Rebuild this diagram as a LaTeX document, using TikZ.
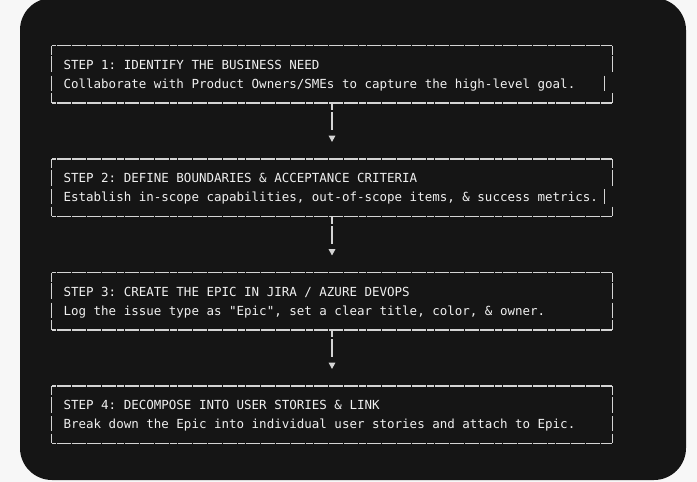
\documentclass[tikz,border=0pt]{standalone}
\usepackage{fontspec}
\setmonofont{DejaVu Sans Mono}
\usetikzlibrary{arrows.meta}

\definecolor{pagebg}{HTML}{F7F7F7}
\definecolor{panelbg}{HTML}{151515}
\definecolor{asciiline}{HTML}{D4D4D4}
\definecolor{asciitext}{HTML}{F0F0F0}

\tikzset{
  panel/.style={fill=panelbg, rounded corners=32pt},
  framebox/.style={minimum width=560pt, minimum height=57pt, inner sep=0pt},
  steptext/.style={anchor=base west, inner sep=0pt, align=left, text=asciitext,
    font=\ttfamily\fontsize{12.5}{19}\selectfont},
  vbar/.style={draw=asciiline, line width=1.2pt},
  hbar/.style={vbar, dash pattern=on 7pt off 0.56pt, dash phase=2.8pt},
  vside/.style={vbar, dash pattern=on 9pt off 1.7pt on 16pt off 3.5pt on 15pt off 2.5pt on 9.3pt off 10pt},
  vsidegap/.style={vbar, dash pattern=on 9pt off 1.7pt on 16pt off 21pt on 9.3pt off 10pt},
  link/.style={vbar, shorten >=17pt, dash pattern=on 7.5pt off 2pt on 17.7pt off 20pt,
    -{Triangle[width=6.5pt,length=6.3pt]}}
}

\begin{document}
\begin{tikzpicture}[x=1pt,y=1pt]
  \useasboundingbox (0,0) rectangle (697,-482);
  \fill[pagebg] (0,0) rectangle (697,-482);
  \fill[panel] (20,2) rectangle (686,-480);

  % frames
  \node[framebox] (box1) at (332,-74.2) {};
  \node[framebox] (box2) at (332,-187.7) {};
  \node[framebox] (box3) at (332,-301.2) {};
  \node[framebox] (box4) at (332,-414.7) {};

  % step texts (base = last line)
  \node[steptext] (step1) at ([shift={(11.6,-42.6)}]box1.north west)
    {STEP 1: IDENTIFY THE BUSINESS NEED\\Collaborate with Product Owners/SMEs to capture the high-level goal.};
  \node[steptext] (step2) at ([shift={(11.6,-42.6)}]box2.north west)
    {STEP 2: DEFINE BOUNDARIES \& ACCEPTANCE CRITERIA\\Establish in-scope capabilities, out-of-scope items, \& success metrics.};
  \node[steptext] (step3) at ([shift={(11.6,-42.6)}]box3.north west)
    {STEP 3: CREATE THE EPIC IN JIRA / AZURE DEVOPS\\Log the issue type as "Epic", set a clear title, color, \& owner.};
  \node[steptext] (step4) at ([shift={(11.6,-42.6)}]box4.north west)
    {STEP 4: DECOMPOSE INTO USER STORIES \& LINK\\Break down the Epic into individual user stories and attach to Epic.};

  \foreach \b/\s in {box1/7.56, box2/7.56, box3/0, box4/0}{
    \draw[hbar] (\b.north west) -- (\b.north east);
    \draw[hbar] (\b.south west) -- (\b.south east);
    \draw[vside] (\b.north west) -- (\b.south west);
    \draw[vsidegap] (\b.north east) -- (\b.south east);
    \draw[vbar] ([shift={(-\s,-30.2)}]\b.north east) -- ++(0,-15);
  }

  \foreach \a/\b in {box1/box2, box2/box3, box3/box4}
    \draw[link] (\a.south) -- (\b.north);
\end{tikzpicture}
\end{document}
